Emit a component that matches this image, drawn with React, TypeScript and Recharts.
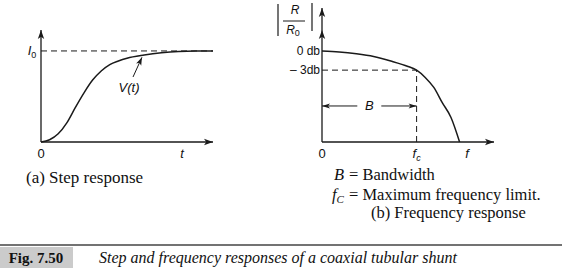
import React from "react";
import { LineChart, Line, XAxis, YAxis, ReferenceLine, ReferenceDot } from "recharts";

// (a) step response V(t), normalised so that I0 = 1
const stepTime = [0, 0.5, 1, 1.5, 2, 2.5, 3, 3.5, 4, 4.5, 5, 6, 7, 8, 9, 10];
const stepValue = [0, 0.025, 0.09, 0.21, 0.38, 0.54, 0.68, 0.78, 0.85, 0.89, 0.92, 0.955, 0.98, 0.995, 1, 1];

// (b) frequency response |R/R0|, 1 = 0 db
const freq = [0, 1, 2, 3, 4, 5, 5.5, 6, 6.5, 7, 7.5, 8];
const freqValue = [1, 0.99, 0.97, 0.94, 0.89, 0.83, 0.79, 0.71, 0.6, 0.43, 0.27, 0];

const I0 = 1;
const minus3db = 0.79;
const fc = 5.5;

const stepXTicks = [0, 8.2];
const stepXLabels = ["0", "t"];
const freqXTicks = [0, fc, 8.43];
const freqXLabels = ["0", "fc", "f"];
const freqYTicks = [1, minus3db];
const freqYLabels = ["0 db", "\u2013 3db"];

const INK = "#1a1a1a";
const SANS = "'Liberation Sans', Arial, sans-serif";
const SERIF = "'Liberation Serif', 'Times New Roman', serif";

function head(x: number, y: number, fx: number, fy: number, len = 9, half = 3.2) {
  const a = Math.atan2(y - fy, x - fx);
  const bx = x - len * Math.cos(a);
  const by = y - len * Math.sin(a);
  const px = -Math.sin(a) * half;
  const py = Math.cos(a) * half;
  return `M${x},${y} L${bx + px},${by + py} L${bx + 0.25 * len * Math.cos(a)},${by + 0.25 * len * Math.sin(a)} L${bx - px},${by - py} Z`;
}

const ArrowRight = (p: any) => <path d={head(p.cx, p.cy, p.cx - 10, p.cy)} fill={INK} />;
const ArrowUp = (p: any) => <path d={head(p.cx, p.cy, p.cx, p.cy + 10)} fill={INK} />;

const Pointer = (p: any) => (
  <g>
    <line x1={p.x1} y1={p.y1} x2={p.x2} y2={p.y2} stroke={INK} strokeWidth={1} />
    <path d={head(p.x2, p.y2, p.x1, p.y1, 8, 2.8)} fill={INK} />
  </g>
);

const DimArrow = (p: any) => {
  const mx = (p.x1 + p.x2) / 2;
  return (
    <g>
      <line x1={p.x1} y1={p.y1} x2={p.x2} y2={p.y2} stroke={INK} strokeWidth={1} />
      <path d={head(p.x1, p.y1, p.x2, p.y2, 8, 2.6)} fill={INK} />
      <path d={head(p.x2, p.y2, p.x1, p.y1, 8, 2.6)} fill={INK} />
      <rect x={mx - 12} y={p.y1 - 7} width={24} height={14} fill="#fff" />
      <text x={mx} y={p.y1 + 4.5} textAnchor="middle" fontFamily={SANS} fontStyle="italic" fontSize={13} fill="#111">
        B
      </text>
    </g>
  );
};

const StepXTick = (p: any) => {
  const label = stepXLabels[stepXTicks.indexOf(p.payload.value)];
  return (
    <text x={p.x} y={p.y + 16} textAnchor="middle" fontFamily={SANS} fontSize={13} fontStyle={label === "t" ? "italic" : "normal"} fill="#111">
      {label}
    </text>
  );
};

const StepYTick = (p: any) => (
  <text x={p.x - 9} y={p.y + 4} textAnchor="middle" fontFamily={SANS} fontSize={13} fontStyle="italic" fill="#111">
    I<tspan fontSize={9} fontStyle="normal" dy={3}>0</tspan>
  </text>
);

const FreqXTick = (p: any) => {
  const label = freqXLabels[freqXTicks.indexOf(p.payload.value)];
  return (
    <text x={p.x} y={p.y + 16} textAnchor="middle" fontFamily={SANS} fontSize={13} fontStyle={label === "0" ? "normal" : "italic"} fill="#111">
      {label === "fc" ? (
        <>
          f<tspan fontSize={9} dy={3}>c</tspan>
        </>
      ) : (
        label
      )}
    </text>
  );
};

const FreqYTick = (p: any) => (
  <text x={p.x - 2} y={p.y + 4} textAnchor="end" fontFamily={SANS} fontSize={12} fill="#111">
    {freqYLabels[freqYTicks.indexOf(p.payload.value)]}
  </text>
);

export default function App() {
  const stepData = stepTime.map((t, i) => ({ t, v: stepValue[i] }));
  const freqData = freq.map((f, i) => ({ f, r: freqValue[i] }));
  const axisLine = { stroke: INK, strokeWidth: 1.3 };

  return (
    <div style={{ position: "absolute", left: 0, top: 0, width: 562, height: 272, background: "#fff", overflow: "hidden" }}>
      <div style={{ position: "absolute", left: 0, top: 0 }}>
        <LineChart width={230} height={170} data={stepData} margin={{ top: 30, right: 17, bottom: 0, left: 0 }}>
          <XAxis dataKey="t" type="number" domain={[0, 10]} ticks={stepXTicks} interval={0} height={28} tickSize={0} tickMargin={0} tickLine={false} axisLine={axisLine} tick={StepXTick} />
          <YAxis type="number" domain={[0, 1.23]} ticks={[I0]} interval={0} width={41} tickSize={0} tickMargin={0} tickLine={false} axisLine={axisLine} tick={StepYTick} />
          <ReferenceLine y={I0} stroke={INK} strokeWidth={1} strokeDasharray="6 4" />
          <Line dataKey="v" type="monotone" stroke={INK} strokeWidth={1.5} dot={false} isAnimationActive={false} />
          <ReferenceLine segment={[{ x: 5.35, y: 0.714 }, { x: 5.87, y: 0.93 }]} shape={Pointer} />
          <ReferenceDot x={10} y={0} r={0} shape={ArrowRight} />
          <ReferenceDot x={0} y={1.23} r={0} shape={ArrowUp} />
        </LineChart>
      </div>

      <div style={{ position: "absolute", left: 281, top: 0 }}>
        <LineChart width={230} height={170} data={freqData} margin={{ top: 8, right: 17, bottom: 0, left: 0 }}>
          <XAxis dataKey="f" type="number" domain={[0, 10]} ticks={freqXTicks} interval={0} height={28} tickSize={0} tickMargin={0} tickLine={false} axisLine={axisLine} tick={FreqXTick} />
          <YAxis type="number" domain={[0, 1.473]} ticks={freqYTicks} interval={0} width={41} tickSize={0} tickMargin={0} tickLine={false} axisLine={axisLine} tick={FreqYTick} />
          <ReferenceLine segment={[{ x: 0, y: minus3db }, { x: fc, y: minus3db }]} stroke={INK} strokeWidth={1} strokeDasharray="6 4" />
          <ReferenceLine segment={[{ x: fc, y: 0 }, { x: fc, y: minus3db }]} stroke={INK} strokeWidth={1} strokeDasharray="6 4" />
          <ReferenceLine segment={[{ x: 0, y: 0.396 }, { x: fc, y: 0.396 }]} shape={DimArrow} />
          <Line dataKey="r" type="monotone" stroke={INK} strokeWidth={1.5} dot={false} isAnimationActive={false} />
          <ReferenceDot x={10} y={0} r={0} shape={ArrowRight} />
          <ReferenceDot x={0} y={1.473} r={0} shape={ArrowUp} />
          <ReferenceDot x={0} y={1.23} r={0} shape={ArrowUp} />
        </LineChart>
      </div>

      <svg width={562} height={272} style={{ position: "absolute", left: 0, top: 0, pointerEvents: "none" }}>
        {/* |R / R0| axis title */}
        <line x1={278} y1={4} x2={278} y2={36} stroke={INK} strokeWidth={1.2} />
        <line x1={312} y1={3} x2={312} y2={31} stroke={INK} strokeWidth={1.2} />
        <text x={295} y={14} textAnchor="middle" fontFamily={SANS} fontStyle="italic" fontSize={12} fill="#111">R</text>
        <line x1={283} y1={21} x2={305} y2={21} stroke={INK} strokeWidth={1} />
        <text x={293} y={34} textAnchor="middle" fontFamily={SANS} fontStyle="italic" fontSize={12} fill="#111">
          R<tspan fontSize={9} fontStyle="normal" dy={2}>0</tspan>
        </text>

        {/* V(t) label */}
        <text x={129} y={92} textAnchor="middle" fontFamily={SANS} fontStyle="italic" fontSize={13} fill="#111">V(t)</text>

        {/* sub captions */}
        <text x={26} y={183} fontFamily={SERIF} fontSize={17} fill="#111">(a) Step response</text>
        <text x={334} y={180} fontFamily={SERIF} fontSize={16.5} fill="#111">
          <tspan fontStyle="italic">B</tspan>
          <tspan x={349}>= Bandwidth</tspan>
        </text>
        <text x={332} y={200} fontFamily={SERIF} fontSize={16.5} fill="#111">
          <tspan fontStyle="italic">f</tspan>
          <tspan fontStyle="italic" fontSize={11} dy={3}>C</tspan>
          <tspan x={349} dy={-3}>= Maximum frequency limit.</tspan>
        </text>
        <text x={371} y={218} fontFamily={SERIF} fontSize={16.5} fill="#111">(b) Frequency response</text>

        {/* figure caption */}
        <line x1={0} y1={245} x2={562} y2={245} stroke="#444" strokeWidth={1.5} />
        <rect x={0} y={247} width={73} height={21} fill="#cbcbcb" />
        <text x={36} y={263} textAnchor="middle" fontFamily={SERIF} fontWeight="bold" fontSize={15} fill="#111">Fig. 7.50</text>
        <text x={99} y={263} fontFamily={SERIF} fontStyle="italic" fontSize={16} fill="#111">
          Step and frequency responses of a coaxial tubular shunt
        </text>
      </svg>
    </div>
  );
}
